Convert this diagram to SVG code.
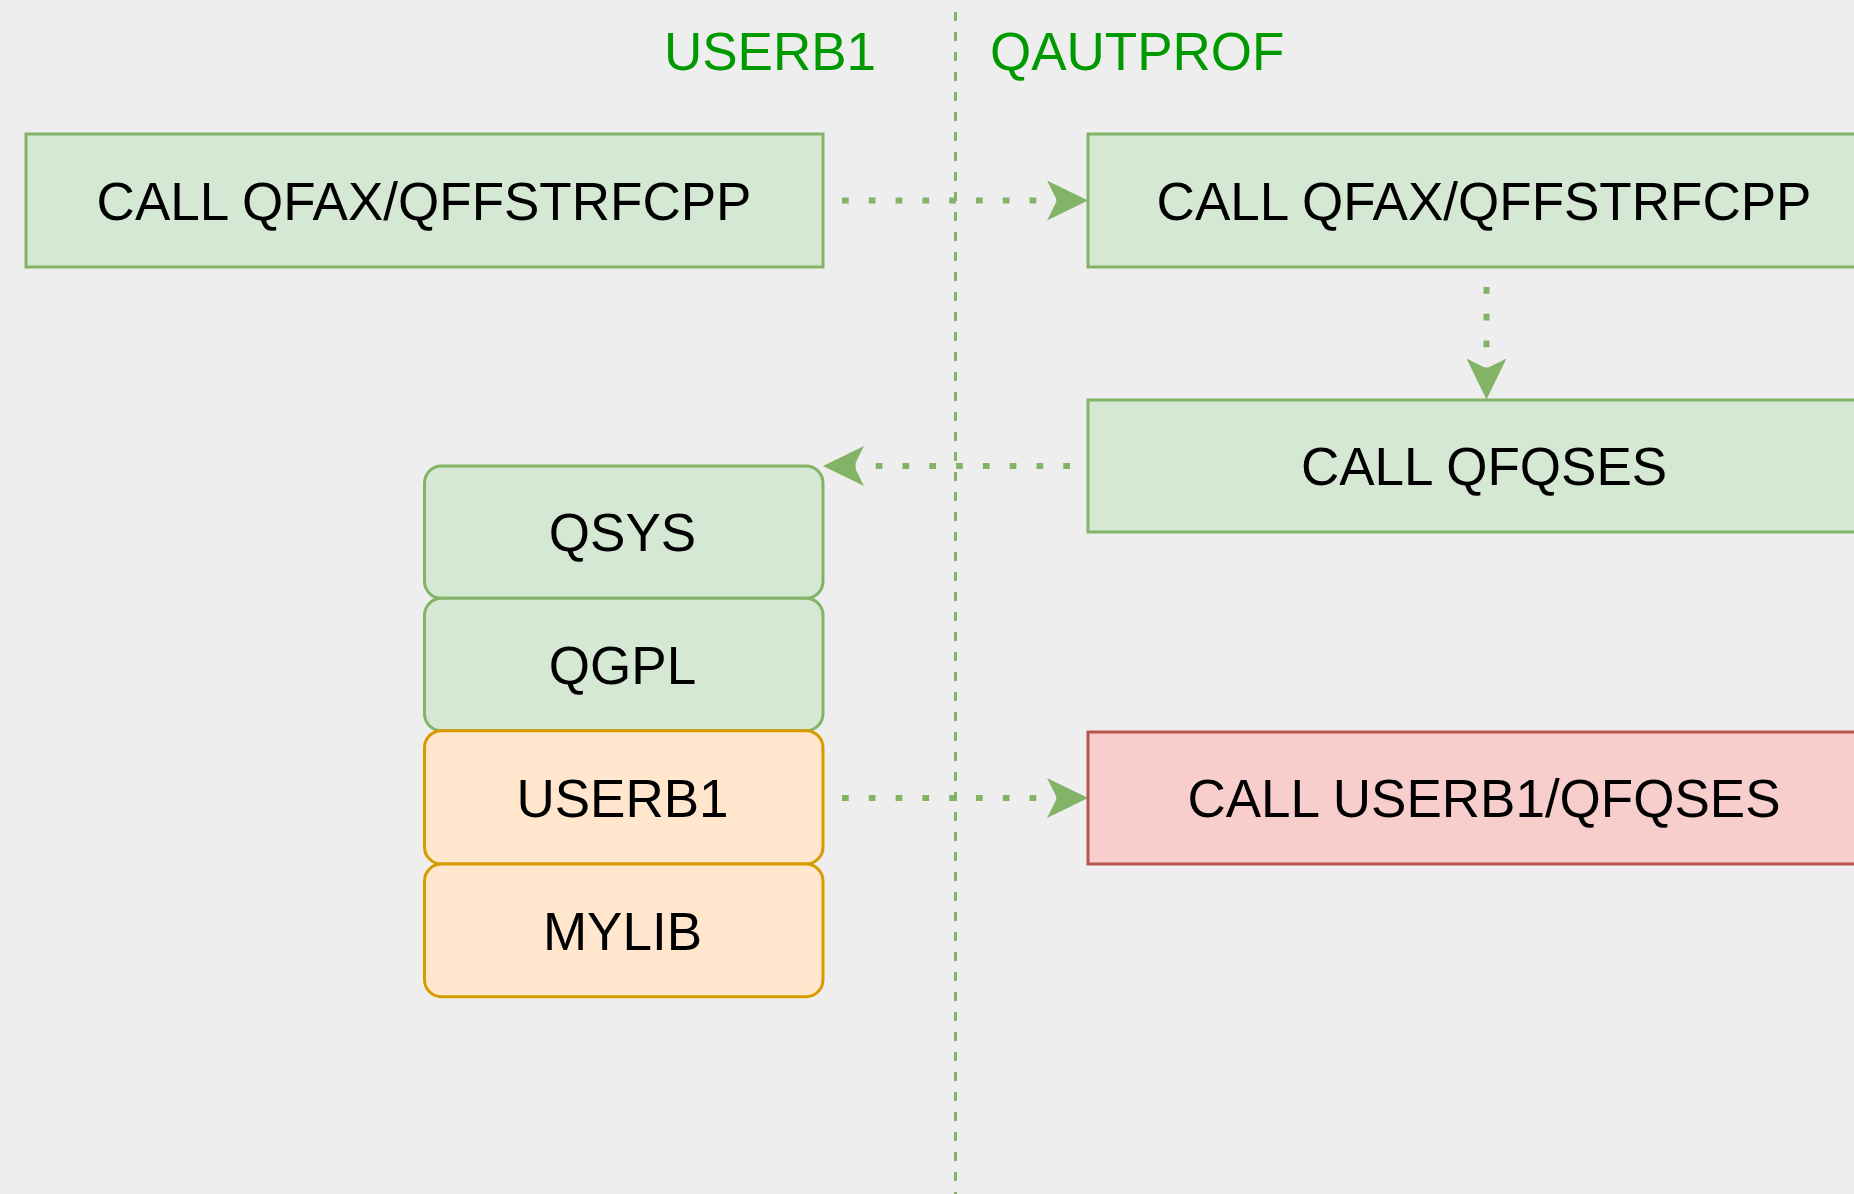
<svg xmlns="http://www.w3.org/2000/svg" width="1854" height="1194" viewBox="0 0 1854 1194">
<style>
.g{fill:#d5e8d4;stroke:#82b366;stroke-width:3}
.o{fill:#ffe6cc;stroke:#d79b00;stroke-width:3}
.r{fill:#f8cecc;stroke:#b85450;stroke-width:3}
.t{font-family:"Liberation Sans",Arial,sans-serif;font-size:53px;fill:#000;text-anchor:middle}
.h{font-family:"Liberation Sans",Arial,sans-serif;font-size:53px;fill:#009900}
.c{fill:none;stroke:#82b366;stroke-width:6;stroke-dasharray:6.7 20.1}
</style>
<defs>
<marker id="arr" markerUnits="userSpaceOnUse" viewBox="0 0 41 40" markerWidth="41" markerHeight="40" refX="10" refY="20" orient="auto">
<path d="M0,0 L41,20 L0,40 L10,20 Z" fill="#82b366"/>
</marker>
</defs>
<rect width="1854" height="1194" fill="#eeeeee"/>
<g id="divider">
<line x1="955.5" y1="12" x2="955.5" y2="1194" stroke="#82b366" stroke-width="3" stroke-dasharray="9 11"/>
</g>
<g id="headers">
<text class="h" x="876" y="70" text-anchor="end">USERB1</text>
<text class="h" x="990" y="70">QAUTPROF</text>
</g>
<g id="connectors">
<line class="c" x1="842" y1="200.5" x2="1057" y2="200.5" marker-end="url(#arr)"/>
<line class="c" x1="1486.5" y1="287" x2="1486.5" y2="368.5" marker-end="url(#arr)"/>
<line class="c" x1="1070" y1="466" x2="854" y2="466" marker-end="url(#arr)"/>
<line class="c" x1="842" y1="798" x2="1057" y2="798" marker-end="url(#arr)"/>
</g>
<g id="call1">
<rect class="g" x="26" y="134" width="797" height="133"/>
<text class="t" x="424" y="219.5">CALL QFAX/QFFSTRFCPP</text>
</g>
<g id="call2">
<rect class="g" x="1088" y="134" width="797" height="133"/>
<text class="t" x="1484" y="219.5">CALL QFAX/QFFSTRFCPP</text>
</g>
<g id="qfqses">
<rect class="g" x="1088" y="400" width="797" height="132"/>
<text class="t" x="1484" y="485">CALL QFQSES</text>
</g>
<g id="userb1call">
<rect class="r" x="1088" y="732" width="797" height="132"/>
<text class="t" x="1484" y="817">CALL USERB1/QFQSES</text>
</g>
<g id="qsys">
<rect class="g" x="424.5" y="466" width="398.5" height="132.3" rx="17" ry="17"/>
<text class="t" x="622.5" y="551">QSYS</text>
</g>
<g id="qgpl">
<rect class="g" x="424.5" y="598.3" width="398.5" height="132.4" rx="17" ry="17"/>
<text class="t" x="622.5" y="683.5">QGPL</text>
</g>
<g id="userb1">
<rect class="o" x="424.5" y="730.7" width="398.5" height="133.3" rx="17" ry="17"/>
<text class="t" x="622.5" y="816.5">USERB1</text>
</g>
<g id="mylib">
<rect class="o" x="424.5" y="864" width="398.5" height="132.7" rx="17" ry="17"/>
<text class="t" x="622.5" y="949.5">MYLIB</text>
</g>
</svg>
